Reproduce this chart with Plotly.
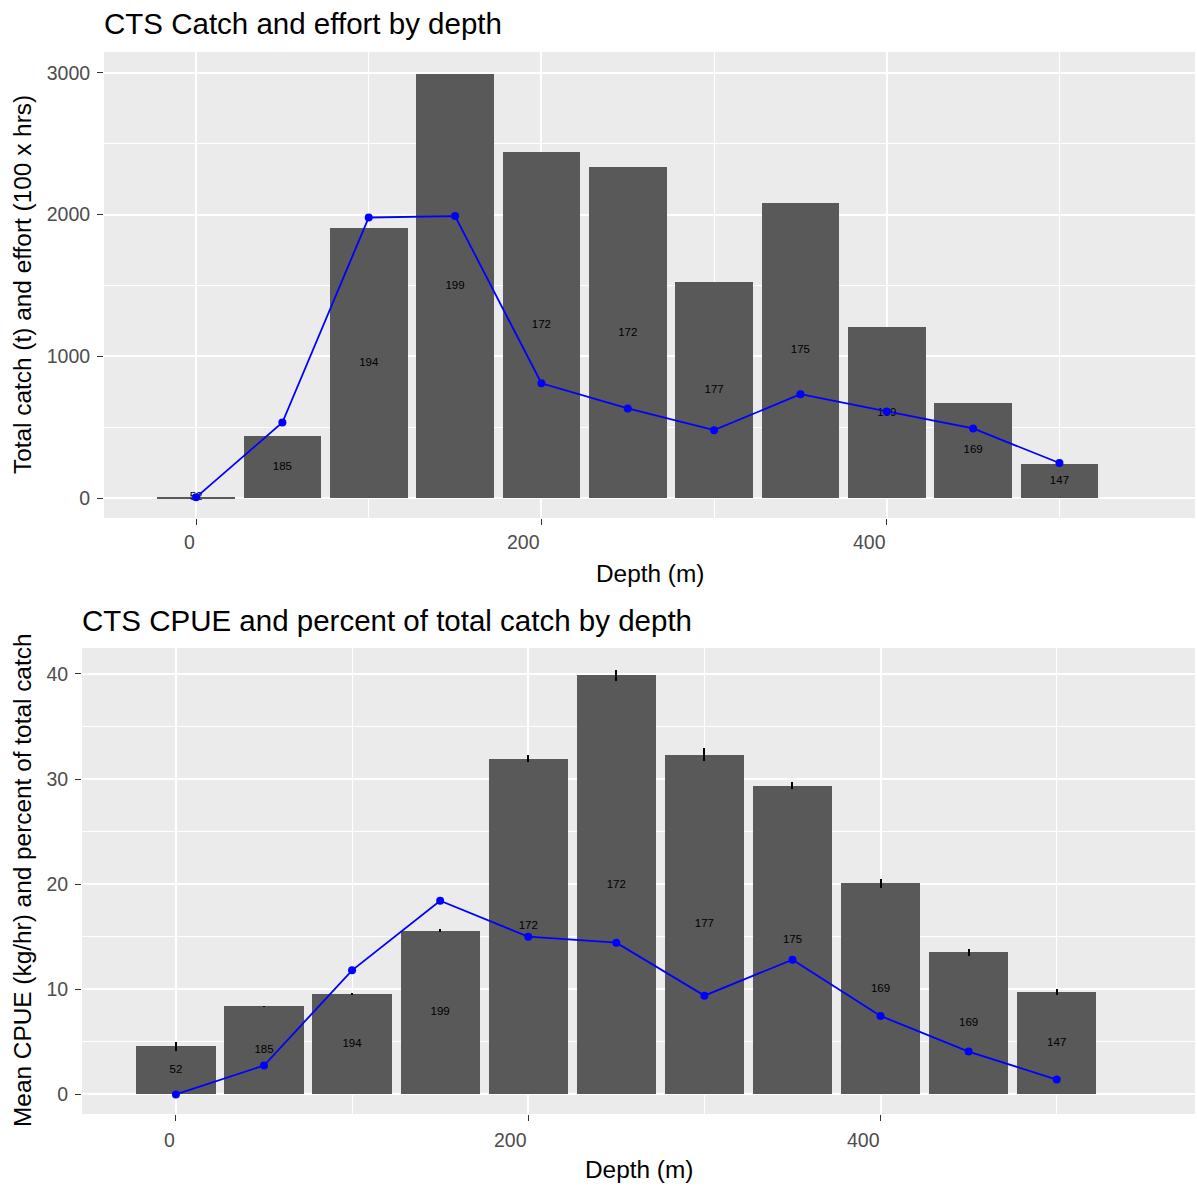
import plotly.graph_objects as go

# ---- data ----
depth = [0, 50, 100, 150, 200, 250, 300, 350, 400, 450, 500]
n_vessels = [52, 185, 194, 199, 172, 172, 177, 175, 169, 169, 147]
total_catch = [10, 439, 1903, 2990, 2441, 2333, 1525, 2082, 1205, 672, 242]
effort = [5, 533, 1980, 1990, 810, 632, 479, 733, 611, 491, 247]
mean_cpue = [4.59, 8.39, 9.53, 15.58, 31.95, 39.87, 32.33, 29.39, 20.08, 13.52, 9.75]
cpue_se = [0.43, 0.06, 0.1, 0.15, 0.35, 0.55, 0.6, 0.38, 0.4, 0.32, 0.25]
pct_catch = [0.0, 2.75, 11.81, 18.43, 15.01, 14.44, 9.40, 12.82, 7.47, 4.08, 1.42]
x_ticks = [0, 200, 400]
x_ticklabels = ["0", "200", "400"]

W, H = 1197, 1186
FONT = "Liberation Sans, Arial, sans-serif"
BAR = "#595959"
PANEL = "#EBEBEB"
TICKC = "#4D4D4D"


def px(v):
    return v / W


def py(v):
    return 1 - v / H


fig = go.Figure()

# ---- top panel ----
fig.add_trace(go.Bar(x=depth, y=total_catch, width=45, marker=dict(color=BAR, line=dict(width=0)),
                     xaxis="x", yaxis="y", showlegend=False, hoverinfo="skip"))
fig.add_trace(go.Scatter(x=depth, y=[v / 2 for v in total_catch], mode="text",
                         text=[str(n) for n in n_vessels], textposition="middle center",
                         textfont=dict(size=11.5, color="black", family=FONT),
                         xaxis="x", yaxis="y", showlegend=False, hoverinfo="skip"))
fig.add_trace(go.Scatter(x=depth, y=effort, mode="lines+markers",
                         line=dict(color="blue", width=1.8), marker=dict(color="blue", size=8),
                         xaxis="x", yaxis="y", showlegend=False))

# ---- bottom panel ----
fig.add_trace(go.Bar(x=depth, y=mean_cpue, width=45, marker=dict(color=BAR, line=dict(width=0)),
                     error_y=dict(type="data", array=cpue_se, visible=True, color="black",
                                  thickness=2, width=0),
                     xaxis="x2", yaxis="y2", showlegend=False, hoverinfo="skip"))
fig.add_trace(go.Scatter(x=depth, y=[v / 2 for v in mean_cpue], mode="text",
                         text=[str(n) for n in n_vessels], textposition="middle center",
                         textfont=dict(size=11.5, color="black", family=FONT),
                         xaxis="x2", yaxis="y2", showlegend=False, hoverinfo="skip"))
fig.add_trace(go.Scatter(x=depth, y=pct_catch, mode="lines+markers",
                         line=dict(color="blue", width=1.8), marker=dict(color="blue", size=8),
                         xaxis="x2", yaxis="y2", showlegend=False))

xcommon = dict(range=[-53.3, 578.5], tickvals=x_ticks, showticklabels=False,
               ticks="outside", ticklen=6, tickwidth=1.2, tickcolor="#333333",
               showgrid=True, gridcolor="white", gridwidth=2, zeroline=False,
               showline=False,
               minor=dict(tickvals=[100, 300, 500], showgrid=True, gridcolor="white",
                          gridwidth=1, ticks=""))

ycommon = dict(ticks="outside", ticklen=6, tickwidth=1.2, tickcolor="#333333",
               showgrid=True, gridcolor="white", gridwidth=2, zeroline=False,
               showline=False, ticklabelstandoff=3,
               tickfont=dict(size=19.5, color=TICKC, family=FONT))

fig.update_layout(
    width=W, height=H,
    margin=dict(l=0, r=0, t=0, b=0),
    paper_bgcolor="white", plot_bgcolor=PANEL,
    font=dict(family=FONT),
    bargap=0,
    xaxis=dict(domain=[px(104), px(1195)], anchor="y", **xcommon),
    yaxis=dict(domain=[py(518), py(52)], anchor="x", range=[-141, 3148],
               tickvals=[0, 1000, 2000, 3000],
               minor=dict(tickvals=[500, 1500, 2500], showgrid=True, gridcolor="white",
                          gridwidth=1, ticks=""),
               **ycommon),
    xaxis2=dict(domain=[px(82), px(1195)], anchor="y2", **xcommon),
    yaxis2=dict(domain=[py(1114), py(648)], anchor="x2", range=[-1.86, 42.47],
                tickvals=[0, 10, 20, 30, 40],
                minor=dict(tickvals=[5, 15, 25, 35], showgrid=True, gridcolor="white",
                           gridwidth=1, ticks=""),
                **ycommon),
)

ann = []
# x tick labels (right-aligned to tick)
for v, t in zip(x_ticks, x_ticklabels):
    ann.append(dict(x=v, y=py(542), xref="x", yref="paper", text=t, showarrow=False,
                    xanchor="right", yanchor="middle", xshift=1,
                    font=dict(size=19.5, color=TICKC, family=FONT)))
    ann.append(dict(x=v, y=py(1140), xref="x2", yref="paper", text=t, showarrow=False,
                    xanchor="right", yanchor="middle", xshift=1,
                    font=dict(size=19.5, color=TICKC, family=FONT)))

# titles
ann.append(dict(x=px(102), y=py(24), xref="paper", yref="paper", showarrow=False,
                text="CTS Catch and effort by depth", xanchor="left", yanchor="middle",
                font=dict(size=29.5, color="black", family=FONT)))
ann.append(dict(x=px(80), y=py(620), xref="paper", yref="paper", showarrow=False,
                text="CTS CPUE and percent of total catch by depth", xanchor="left",
                yanchor="middle", font=dict(size=29.5, color="black", family=FONT)))
# axis titles
ann.append(dict(x=px(649.5), y=py(574), xref="paper", yref="paper", showarrow=False,
                text="Depth (m)", xanchor="center", yanchor="middle",
                font=dict(size=24.4, color="black", family=FONT)))
ann.append(dict(x=px(638.5), y=py(1169), xref="paper", yref="paper", showarrow=False,
                text="Depth (m)", xanchor="center", yanchor="middle",
                font=dict(size=24.4, color="black", family=FONT)))
ann.append(dict(x=px(22), y=py(285), xref="paper", yref="paper", showarrow=False,
                text="Total catch (t) and effort (100 x hrs)", textangle=-90,
                xanchor="center", yanchor="middle",
                font=dict(size=24.4, color="black", family=FONT)))
ann.append(dict(x=px(22), y=py(881), xref="paper", yref="paper", showarrow=False,
                text="Mean CPUE (kg/hr) and percent of total catch", textangle=-90,
                xanchor="center", yanchor="middle",
                font=dict(size=24.4, color="black", family=FONT)))
fig.update_layout(annotations=ann)

fig.write_html("out.html", config={"displayModeBar": False},
               post_script="document.body.style.margin='0';document.body.style.overflow='hidden';")
